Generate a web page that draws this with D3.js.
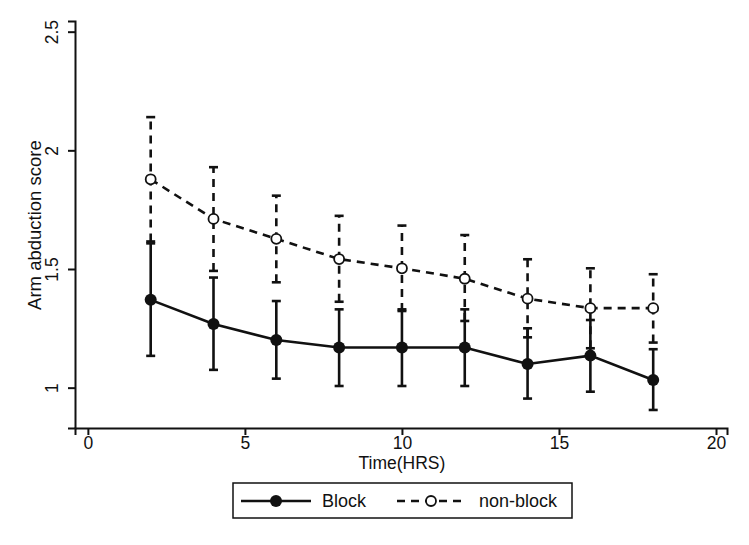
<!DOCTYPE html>
<html><head><meta charset="utf-8">
<script src="https://cdn.jsdelivr.net/npm/d3@7"></script>
<style>body{margin:0;background:#fff}svg{display:block}text{font-family:"Liberation Sans",Arial,sans-serif;fill:#111}</style>
</head><body>
<script>
const times = [2,4,6,8,10,12,14,16,18];
const blockMean = [1.37,1.268,1.201,1.169,1.169,1.169,1.10,1.135,1.032];
const blockLo   = [1.134,1.075,1.038,1.007,1.007,1.007,0.954,0.983,0.906];
const blockHi   = [1.608,1.464,1.365,1.330,1.330,1.330,1.250,1.285,1.162];
const nonMean = [1.878,1.711,1.627,1.542,1.503,1.459,1.375,1.335,1.335];
const nonLo   = [1.616,1.492,1.444,1.362,1.323,1.281,1.212,1.166,1.190];
const nonHi   = [2.140,1.929,1.809,1.724,1.683,1.643,1.541,1.503,1.478];
const xTicks = [0,5,10,15,20];
const yTicks = [1,1.5,2,2.5];
const seriesNames = ["Block","non-block"];

const W=749,H=545;
const FS="18px";
const svg=d3.select("body").append("svg").attr("width",W).attr("height",H);
const x=d3.scaleLinear().domain([-0.41,20.35]).range([75,727]);
const y=d3.scaleLinear().domain([0.83,2.545]).range([428,21]);
const ink="#111";

// axes
const xa=svg.append("g").attr("transform","translate(0,428)").call(d3.axisBottom(x).tickValues(xTicks).tickSize(7).tickFormat(d3.format("d")));
const ya=svg.append("g").attr("transform","translate(75,0)").call(d3.axisLeft(y).tickValues(yTicks).tickSize(7).tickFormat(d=>String(d)));
[xa,ya].forEach(a=>{a.select(".domain").attr("stroke",ink).attr("stroke-width",2);a.selectAll(".tick line").attr("stroke",ink).attr("stroke-width",2);a.selectAll("text").style("font-size","17.5px").attr("fill",ink);});
xa.selectAll(".tick text").attr("y",21).attr("dy",0);
ya.selectAll(".tick text").attr("text-anchor","middle").attr("x",0).attr("dy",0).attr("transform","translate(-17,0) rotate(-90)");
svg.append("text").attr("x",x(10)).attr("y",469).attr("text-anchor","middle").style("font-size","17.5px").text("Time(HRS)");
svg.append("text").attr("transform",`translate(41,${y(1.685)}) rotate(-90)`).attr("text-anchor","middle").style("font-size","18.5px").text("Arm abduction score");

const blk=times.map((t,i)=>({t,m:blockMean[i],lo:blockLo[i],hi:blockHi[i]}));
const non=times.map((t,i)=>({t,m:nonMean[i],lo:nonLo[i],hi:nonHi[i]}));
const dash="8,6";
function errbars(data,dashed){
  const g=svg.append("g").attr("stroke",ink).attr("stroke-width",2.6).attr("fill","none");
  g.selectAll(".v").data(data).join("line").attr("x1",d=>x(d.t)).attr("x2",d=>x(d.t)).attr("y1",d=>y(d.lo)).attr("y2",d=>y(d.hi)).attr("stroke-dasharray",dashed?dash:null);
  ["lo","hi"].forEach(k=>g.selectAll(".c"+k).data(data).join("line").attr("x1",d=>x(d.t)-4.5).attr("x2",d=>x(d.t)+4.5).attr("y1",d=>y(d[k])).attr("y2",d=>y(d[k])));
}
errbars(non,true);
errbars(blk,false);
const line=d3.line().x(d=>x(d.t)).y(d=>y(d.m));
svg.append("path").datum(non).attr("d",line).attr("fill","none").attr("stroke",ink).attr("stroke-width",2.6).attr("stroke-dasharray",dash);
svg.append("path").datum(blk).attr("d",line).attr("fill","none").attr("stroke",ink).attr("stroke-width",2.6);
svg.selectAll(".nm").data(non).join("circle").attr("cx",d=>x(d.t)).attr("cy",d=>y(d.m)).attr("r",5).attr("fill","#fff").attr("stroke",ink).attr("stroke-width",1.8);
svg.selectAll(".bm").data(blk).join("circle").attr("cx",d=>x(d.t)).attr("cy",d=>y(d.m)).attr("r",6).attr("fill",ink);

// legend
const lg=svg.append("g");
lg.append("rect").attr("x",233).attr("y",483).attr("width",339).attr("height",35).attr("fill","#fff").attr("stroke",ink).attr("stroke-width",1.5);
lg.append("line").attr("x1",241).attr("x2",311).attr("y1",501).attr("y2",501).attr("stroke",ink).attr("stroke-width",2.6);
lg.append("circle").attr("cx",276).attr("cy",501).attr("r",6).attr("fill",ink);
lg.append("text").attr("x",322).attr("y",507).style("font-size",FS).text(seriesNames[0]);
lg.append("line").attr("x1",397).attr("x2",467).attr("y1",501).attr("y2",501).attr("stroke",ink).attr("stroke-width",2.6).attr("stroke-dasharray",dash);
lg.append("circle").attr("cx",431).attr("cy",501).attr("r",5).attr("fill","#fff").attr("stroke",ink).attr("stroke-width",1.8);
lg.append("text").attr("x",479).attr("y",507).style("font-size",FS).text(seriesNames[1]);
</script>
</body></html>
